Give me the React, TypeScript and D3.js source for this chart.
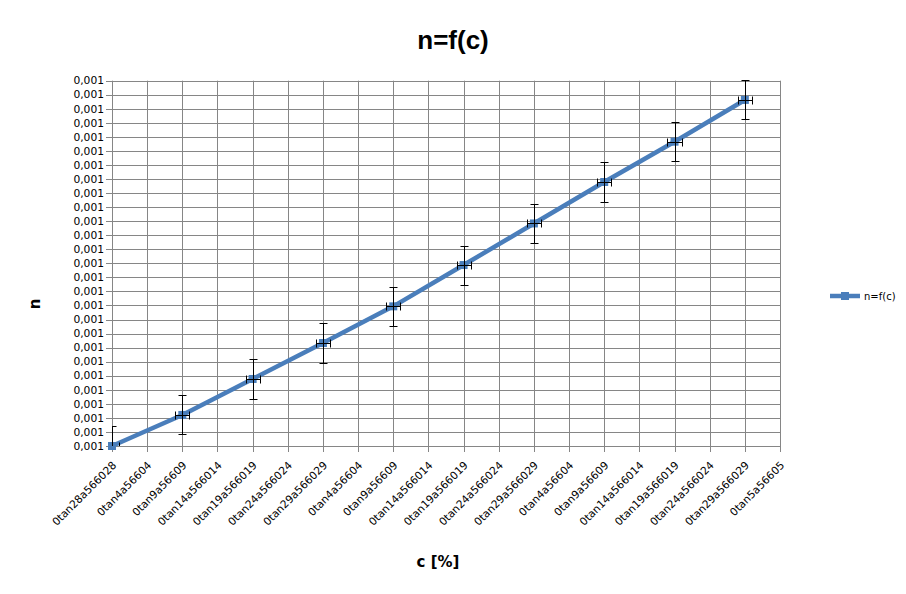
import React from "react";
import * as d3 from "d3";

const cValues = [0, 2, 4, 6, 8, 10, 12, 14, 16, 18];
const nValues = [0.001, 0.0010221, 0.0010477, 0.0010733, 0.0010994, 0.0011288, 0.0011584, 0.0011879, 0.0012166, 0.0012463];
const nErrors = [0.0000139, 0.0000139, 0.0000139, 0.0000139, 0.0000139, 0.0000139, 0.0000139, 0.0000139, 0.0000139, 0.0000139];
const cErrors = [0.2, 0.2, 0.2, 0.2, 0.2, 0.2, 0.2, 0.2, 0.2, 0.2];
const xTickLabels = [
  "0tan28a566028", "0tan4a56604", "0tan9a56609", "0tan14a566014", "0tan19a566019",
  "0tan24a566024", "0tan29a566029", "0tan4a56604", "0tan9a56609", "0tan14a566014",
  "0tan19a566019", "0tan24a566024", "0tan29a566029", "0tan4a56604", "0tan9a56609",
  "0tan14a566014", "0tan19a566019", "0tan24a566024", "0tan29a566029", "0tan5a56605",
];
const yMin = 0.001;
const yMax = 0.00126;
const yStep = 0.00001;

const W = 906, H = 594;
const L = 112, R = 780, T = 80.7, B = 446;
const BLUE = "#4A7EBB";
const GRID = "#868686";

export default function App() {
  const x = d3.scaleLinear().domain([0, xTickLabels.length - 1]).range([L, R]);
  const y = d3.scaleLinear().domain([yMin, yMax]).range([B, T]);
  const yTicks = d3.range(0, Math.round((yMax - yMin) / yStep) + 1).map((i) => yMin + i * yStep);
  const fmt = (v: number) => d3.format(".3f")(v).replace(".", ",");
  const data = cValues.map((c, i) => ({ c, n: nValues[i], en: nErrors[i], ec: cErrors[i] }));
  const line = d3.line<any>().x((d) => x(d.c)).y((d) => y(d.n));
  const font = "DejaVu Sans, Verdana, sans-serif";
  const px = (v: number) => Math.round(v) + 0.5;

  return (
    <svg width={W} height={H} style={{ position: "absolute", left: 0, top: 0, background: "#fff" }} fontFamily={font}>
      <defs>
        <clipPath id="plot">
          <rect x={L} y={T - 1} width={R - L} height={B - T + 1} />
        </clipPath>
      </defs>
      <rect x={0} y={0} width={W} height={H} fill="#fff" />
      <text x={453} y={49} textAnchor="middle" fontFamily="Liberation Sans, Arial, sans-serif" fontWeight="bold" fontSize={26}>
        n=f(c)
      </text>
      {yTicks.map((v, i) => (
        <g key={"y" + i}>
          <line x1={L - 6} x2={R} y1={px(y(v))} y2={px(y(v))} stroke={GRID} strokeWidth={1} />
          <text x={104} y={y(v)} dy="0.35em" textAnchor="end" fontSize={10.7} fill="#000">
            {fmt(v)}
          </text>
        </g>
      ))}
      {xTickLabels.map((lab, i) => (
        <g key={"x" + i}>
          <line x1={px(x(i))} x2={px(x(i))} y1={T} y2={B + 6} stroke={GRID} strokeWidth={1} />
          <text
            transform={`translate(${x(i) + 5},${466}) rotate(-45)`}
            textAnchor="end"
            fontSize={10.7}
            fill="#000"
          >
            {lab}
          </text>
        </g>
      ))}
      <path d={line(data) || ""} fill="none" stroke={BLUE} strokeWidth={4.5} strokeLinejoin="round" />
      {data.map((d, i) => (
        <rect key={"m" + i} x={x(d.c) - 4} y={y(d.n) - 4} width={8} height={8} fill={BLUE} />
      ))}
      <g clipPath="url(#plot)" stroke="#000" strokeWidth={1}>
        {data.map((d, i) => {
          const cx = px(x(d.c)), cy = px(y(d.n));
          const y1 = px(y(d.n + d.en)), y2 = px(y(d.n - d.en));
          const x1 = px(x(d.c - d.ec)), x2 = px(x(d.c + d.ec));
          return (
            <g key={"e" + i}>
              <line x1={cx} x2={cx} y1={y1} y2={y2} />
              <line x1={cx - 4} x2={cx + 4} y1={y1} y2={y1} />
              <line x1={cx - 4} x2={cx + 4} y1={y2} y2={y2} />
              <line x1={x1} x2={x2} y1={cy} y2={cy} />
              <line x1={x1} x2={x1} y1={cy - 4} y2={cy + 4} />
              <line x1={x2} x2={x2} y1={cy - 4} y2={cy + 4} />
            </g>
          );
        })}
      </g>
      <text transform="translate(40,304) rotate(-90)" textAnchor="middle" fontWeight="bold" fontSize={15}>
        n
      </text>
      <text x={438} y={567} textAnchor="middle" fontWeight="bold" fontSize={15}>
        c [%]
      </text>
      <line x1={830} x2={860} y1={296} y2={296} stroke={BLUE} strokeWidth={4.5} />
      <rect x={841} y={292} width={8} height={8} fill={BLUE} />
      <text x={864} y={296} dy="0.35em" fontSize={10}>
        n=f(c)
      </text>
    </svg>
  );
}
